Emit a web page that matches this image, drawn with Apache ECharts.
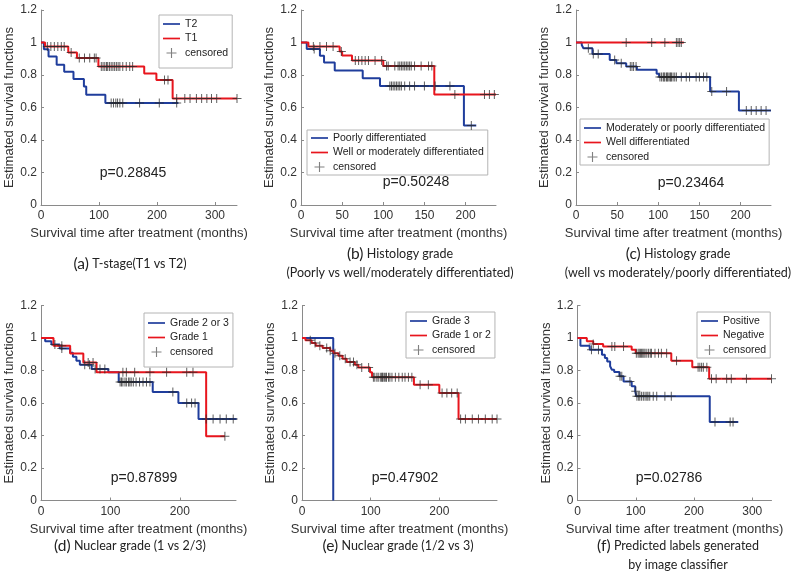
<!DOCTYPE html>
<html><head><meta charset="utf-8">
<script src="https://cdn.jsdelivr.net/npm/echarts@6/dist/echarts.min.js"></script>
<style>html,body{margin:0;padding:0;background:#fff}#c{width:800px;height:580px}</style>
</head><body><div id="c"></div>
<script>
// ---------- tick labels ----------
const yTicks = [0, 0.2, 0.4, 0.6, 0.8, 1, 1.2];
const aXTicks = [0, 100, 200, 300];
const bXTicks = [0, 50, 100, 150, 200];
const cXTicks = [0, 50, 100, 150, 200];
const dXTicks = [0, 100, 200];
const eXTicks = [0, 100, 200];
const fXTicks = [0, 100, 200, 300];

// ---------- (a) T-stage ----------
const aT2Time = [0, 5, 13, 27, 40, 56, 74, 78, 111, 237];
const aT2Surv = [1, 0.959, 0.914, 0.863, 0.82, 0.776, 0.729, 0.678, 0.627, 0.627];
const aT2Cens = [121, 125, 129, 132, 136, 141, 170, 204, 234];
const aT1Time = [0, 7, 47, 62, 99, 178, 199, 227, 338];
const aT1Surv = [1, 0.975, 0.938, 0.904, 0.852, 0.81, 0.77, 0.655, 0.655];
const aT1Cens = [11, 17, 23, 29, 35, 40, 52, 66, 75, 84, 92, 95, 104, 107, 110, 113, 115, 118, 121, 124, 127, 130, 133, 136, 141, 147, 153, 158, 213, 219, 234, 248, 257, 268, 277, 286, 294, 303, 338];

// ---------- (b) Histology grade ----------
const bPoorTime = [0, 7, 23, 28, 41, 75, 96, 198, 213];
const bPoorSurv = [1, 0.96, 0.918, 0.877, 0.828, 0.78, 0.733, 0.49, 0.49];
const bPoorCens = [16, 108, 110, 112, 114, 116, 118, 120, 122, 126, 132, 138, 150, 163, 181, 207];
const bWellTime = [0, 9, 47, 50, 62, 100, 162, 237];
const bWellSurv = [1, 0.975, 0.945, 0.92, 0.889, 0.856, 0.68, 0.68];
const bWellCens = [15, 23, 31, 39, 49, 66, 70, 74, 78, 82, 90, 98, 104, 106, 114, 118, 120, 122, 124, 126, 128, 130, 132, 134, 138, 146, 155, 159, 187, 223, 229, 235];

// ---------- (c) Histology grade ----------
const cModTime = [0, 7, 9, 20, 41, 49, 61, 74, 98, 101, 163, 198, 237];
const cModSurv = [1, 0.985, 0.965, 0.93, 0.893, 0.873, 0.852, 0.832, 0.807, 0.787, 0.698, 0.582, 0.582];
const cModCens = [15, 21, 27, 47, 55, 66, 68, 70, 73, 102, 104, 106, 107, 108, 110, 111, 112, 114, 115, 116, 118, 120, 122, 128, 134, 138, 146, 150, 155, 159, 165, 183, 207, 213, 219, 225, 231];
const cWellTime = [0, 131];
const cWellSurv = [1, 1];
const cWellCens = [61, 92, 108, 122, 124, 126, 128];

// ---------- (d) Nuclear grade (1 vs 2/3) ----------
const dG23Time = [0, 6, 15, 27, 42, 46, 51, 56, 73, 97, 112, 161, 198, 227, 282];
const dG23Surv = [1, 0.98, 0.96, 0.935, 0.91, 0.885, 0.86, 0.835, 0.81, 0.79, 0.729, 0.668, 0.6, 0.502, 0.502];
const dG23Cens = [20, 30, 63, 70, 78, 85, 92, 114, 116, 118, 121, 123, 126, 128, 130, 133, 137, 142, 147, 152, 157, 190, 210, 217, 222, 238, 248, 258, 267, 277];
const dG1Time = [0, 18, 42, 61, 80, 238, 265];
const dG1Surv = [1, 0.953, 0.904, 0.85, 0.79, 0.395, 0.395];
const dG1Cens = [30, 68, 75, 118, 123, 135, 157, 181, 210, 219, 265];

// ---------- (e) Nuclear grade (1/2 vs 3) ----------
const eG3Time = [0, 45.5];
const eG3Surv = [1, 0];
const eG12Time = [0, 5, 14, 20, 30, 41, 46, 53, 59, 65, 77, 82, 99, 102, 163, 200, 228, 284];
const eG12Surv = [1, 0.986, 0.969, 0.953, 0.938, 0.922, 0.906, 0.891, 0.873, 0.852, 0.836, 0.819, 0.79, 0.758, 0.713, 0.662, 0.502, 0.502];
const eG12Cens = [12, 19, 26, 36, 41, 48, 55, 63, 70, 75, 80, 87, 97, 104, 106, 109, 111, 114, 116, 117, 118, 120, 122, 123, 126, 128, 131, 136, 141, 146, 150, 155, 160, 172, 184, 204, 211, 218, 226, 231, 238, 248, 257, 267, 277, 284];

// ---------- (f) Predicted labels ----------
const fPosTime = [0, 5, 21, 42, 47, 51, 56, 59, 63, 72, 79, 93, 99, 101, 227, 276];
const fPosSurv = [1, 0.953, 0.928, 0.897, 0.877, 0.856, 0.826, 0.805, 0.791, 0.764, 0.733, 0.703, 0.672, 0.641, 0.483, 0.483];
const fPosCens = [24, 36, 73, 76, 90, 100, 102, 105, 107, 110, 113, 116, 119, 121, 124, 130, 136, 150, 161, 236, 262, 267];
const fNegTime = [0, 16, 27, 44, 93, 100, 161, 197, 226, 333];
const fNegSurv = [1, 0.98, 0.963, 0.947, 0.928, 0.906, 0.86, 0.82, 0.75, 0.75];
const fNegCens = [27, 59, 64, 79, 101, 104, 106, 108, 110, 112, 114, 116, 119, 122, 125, 127, 133, 139, 144, 153, 170, 207, 210, 213, 216, 222, 230, 238, 256, 264, 290, 333];

// ---------- styles ----------
const BLUE = '#1f3d9c';
const RED = '#e8151d';
const AXIS = '#8a8a8a';
const TXT = '#333333';
const FONT = "'Liberation Sans', Arial, sans-serif";
const CAPFONT = "Lato, 'Open Sans', sans-serif";
const linePath = 'path://M0,4H20V6H0Z';
const plusPath = 'path://M4,0H5V4H9V5H5V9H4V5H0V4H4Z';

function survAt(time, surv, t) {
  let s = surv[0];
  for (let i = 0; i < time.length; i++) { if (time[i] <= t) s = surv[i]; else break; }
  return s;
}

const panels = [
  { left: 41, top: 10, width: 196, xMax: 338, xTicks: aXTicks,
    curves: [{ name: 'T2', color: BLUE, time: aT2Time, surv: aT2Surv, cens: aT2Cens },
             { name: 'T1', color: RED, time: aT1Time, surv: aT1Surv, cens: aT1Cens }],
    legend: { left: 159, top: 15, padding: [2, 4, 8, 4] },
    p: { text: 'p=0.28845', x: 133, y: 173 },
    cap: { x: 130, y: 264, lines: [['(a)', 'T-stage(T1 vs T2)']] } },
  { left: 301, top: 10, width: 195, xMax: 237, xTicks: bXTicks,
    curves: [{ name: 'Poorly differentiated', color: BLUE, time: bPoorTime, surv: bPoorSurv, cens: bPoorCens },
             { name: 'Well or moderately differentiated', color: RED, time: bWellTime, surv: bWellSurv, cens: bWellCens }],
    legend: { left: 307, top: 130, padding: [1, 4, 1, 4] },
    p: { text: 'p=0.50248', x: 416, y: 182 },
    cap: { x: 400, y: 254, lines: [['(b)', 'Histology grade'], ['', '(Poorly vs well/moderately differentiated)']] } },
  { left: 576, top: 10, width: 195, xMax: 237, xTicks: cXTicks,
    curves: [{ name: 'Moderately or poorly differentiated', color: BLUE, time: cModTime, surv: cModSurv, cens: cModCens },
             { name: 'Well differentiated', color: RED, time: cWellTime, surv: cWellSurv, cens: cWellCens }],
    legend: { left: 580, top: 119, padding: [2, 4, 1, 4] },
    p: { text: 'p=0.23464', x: 691, y: 183 },
    cap: { x: 678, y: 254, lines: [['(c)', 'Histology grade'], ['', '(well vs moderately/poorly differentiated)']] } },
  { left: 41, top: 305.5, width: 195, xMax: 281, xTicks: dXTicks,
    curves: [{ name: 'Grade 2 or 3', color: BLUE, time: dG23Time, surv: dG23Surv, cens: dG23Cens },
             { name: 'Grade 1', color: RED, time: dG1Time, surv: dG1Surv, cens: dG1Cens }],
    legend: { left: 144, top: 313, padding: [3, 4, 8, 4] },
    p: { text: 'p=0.87899', x: 144, y: 478 },
    cap: { x: 130, y: 546, lines: [['(d)', 'Nuclear grade (1 vs 2/3)']] } },
  { left: 302, top: 305.5, width: 195, xMax: 284, xTicks: eXTicks,
    curves: [{ name: 'Grade 3', color: BLUE, time: eG3Time, surv: eG3Surv, cens: [] },
             { name: 'Grade 1 or 2', color: RED, time: eG12Time, surv: eG12Surv, cens: eG12Cens }],
    legend: { left: 406, top: 312, padding: [2, 4, 1, 4] },
    p: { text: 'p=0.47902', x: 405, y: 478 },
    cap: { x: 398, y: 546, lines: [['(e)', 'Nuclear grade (1/2 vs 3)']] } },
  { left: 577.5, top: 305.5, width: 194, xMax: 333, xTicks: fXTicks,
    curves: [{ name: 'Positive', color: BLUE, time: fPosTime, surv: fPosSurv, cens: fPosCens },
             { name: 'Negative', color: RED, time: fNegTime, surv: fNegSurv, cens: fNegCens }],
    legend: { left: 697, top: 312, padding: [2, 4, 1, 4] },
    p: { text: 'p=0.02786', x: 669, y: 478 },
    cap: { x: 678, y: 546, lines: [['(f)', 'Predicted labels generated'], ['', 'by image classifier']] } }
];

const grid = [], xAxis = [], yAxis = [], series = [], legend = [], graphic = [];

panels.forEach((p, i) => {
  grid.push({ left: p.left, top: p.top, width: p.width, height: 195, containLabel: false, outerBoundsMode: 'none' });
  xAxis.push({
    gridIndex: i, type: 'value', min: 0, max: p.xMax, interval: p.xTicks[1] - p.xTicks[0],
    name: 'Survival time after treatment (months)', nameLocation: 'middle', nameGap: 22,
    nameTextStyle: { fontSize: 13, color: TXT, fontFamily: FONT },
    axisLine: { show: true, onZero: false, lineStyle: { color: AXIS, width: 1 } },
    axisTick: { show: true, inside: true, length: 3, customValues: p.xTicks, lineStyle: { color: AXIS } },
    axisLabel: { customValues: p.xTicks, fontSize: 12, color: TXT, fontFamily: FONT, margin: 5 },
    splitLine: { show: false }
  });
  yAxis.push({
    gridIndex: i, type: 'value', min: 0, max: 1.2, interval: 0.2,
    name: 'Estimated survival functions', nameLocation: 'middle', nameGap: 21,
    nameTextStyle: { fontSize: 13, color: TXT, fontFamily: FONT },
    axisLine: { show: true, onZero: false, lineStyle: { color: AXIS, width: 1 } },
    axisTick: { show: true, inside: true, length: 3, customValues: yTicks, lineStyle: { color: AXIS } },
    axisLabel: { customValues: yTicks, fontSize: 12, color: TXT, fontFamily: FONT, margin: 4 },
    splitLine: { show: false }
  });
  const censData = [];
  p.curves.forEach((c, k) => {
    series.push({
      type: 'line', name: c.name, xAxisIndex: i, yAxisIndex: i, step: 'end',
      data: c.time.map((t, j) => [t, c.surv[j]]),
      showSymbol: false, symbol: 'none', color: c.color,
      lineStyle: { color: c.color, width: 2 }, z: 2 + k, animation: false, silent: true
    });
    c.cens.forEach(t => censData.push([t, survAt(c.time, c.surv, t)]));
  });
  series.push({
    type: 'scatter', name: 'censored', xAxisIndex: i, yAxisIndex: i,
    data: censData, symbol: plusPath, symbolSize: 9, color: '#2a2a2a',
    itemStyle: { color: '#2a2a2a', opacity: 0.75 }, z: 5, animation: false, silent: true
  });
  legend.push({
    left: p.legend.left, top: p.legend.top, orient: 'vertical', padding: p.legend.padding,
    itemWidth: 17, itemHeight: 10, itemGap: 0.5, selectedMode: false,
    borderColor: '#b4b4b4', borderWidth: 1, borderRadius: 0, backgroundColor: '#ffffff',
    textStyle: { fontSize: 10.5, fontFamily: FONT, color: '#222', lineHeight: 14 },
    data: [
      { name: p.curves[0].name, icon: linePath },
      { name: p.curves[1].name, icon: linePath },
      { name: 'censored', icon: plusPath, itemStyle: { color: '#555' } }
    ]
  });
  graphic.push({
    type: 'text', x: p.p.x, y: p.p.y, z: 10,
    style: { text: p.p.text, fill: '#222', font: '14px ' + FONT, textAlign: 'center', textVerticalAlign: 'middle' }
  });
  p.cap.lines.forEach((ln, li) => {
    const txt = ln[0] ? '{b|' + ln[0] + '} {t|' + ln[1] + '}' : '{t|' + ln[1] + '}';
    graphic.push({
      type: 'text', x: p.cap.x, y: p.cap.y + li * 19, z: 10,
      style: {
        text: txt, textAlign: 'center', textVerticalAlign: 'middle',
        rich: {
          b: { fontSize: 15.5, fontFamily: CAPFONT, fill: '#222' },
          t: { fontSize: 12.5, fontFamily: CAPFONT, fill: '#222' }
        }
      }
    });
  });
});

const chart = echarts.init(document.getElementById('c'), null, { renderer: 'canvas' });
chart.setOption({ animation: false, backgroundColor: '#fff', grid, xAxis, yAxis, series, legend, graphic });
</script></body></html>
